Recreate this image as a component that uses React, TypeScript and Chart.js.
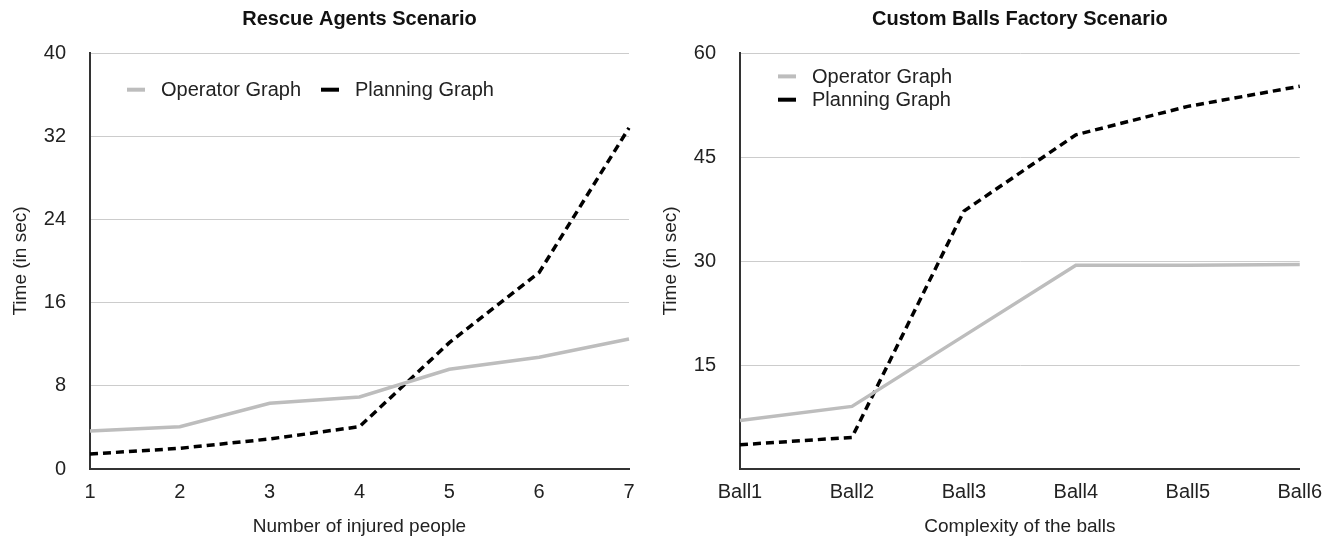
import React, { useEffect, useRef } from "react";
import { Chart, registerables } from "chart.js";

Chart.register(...registerables);

// ---------- data ----------
const rescueCategories = ["1", "2", "3", "4", "5", "6", "7"];
const rescueOperator = [3.66, 4.07, 6.32, 6.93, 9.59, 10.75, 12.5];
const rescuePlanning = [1.44, 1.99, 2.89, 4.07, 12.15, 18.9, 32.8];
const rescueYTicks = [0, 8, 16, 24, 32, 40];

const ballsCategories = ["Ball1", "Ball2", "Ball3", "Ball4", "Ball5", "Ball6"];
const ballsOperator = [7.0, 9.03, 19.2, 29.4, 29.4, 29.5];
const ballsPlanning = [3.5, 4.56, 37.2, 48.2, 52.3, 55.2];
const ballsYTicks = [15, 30, 45, 60];

const seriesNames = ["Operator Graph", "Planning Graph"];

// ---------- styles ----------
const FONT = '"Liberation Sans", Arial, Helvetica, sans-serif';
const TEXT = "#222222";
const GRAY_LINE = "#bdbdbd";
const GRID = "#cccccc";

const overlayPlugin = {
  id: "overlay",
  afterDraw(chart: any, _args: any, opts: any) {
    const { ctx, chartArea } = chart;
    ctx.save();
    ctx.fillStyle = "#111111";
    ctx.font = `bold 20px ${FONT}`;
    ctx.textAlign = "center";
    ctx.textBaseline = "middle";
    ctx.fillText(opts.title, (chartArea.left + chartArea.right) / 2, opts.titleY);

    ctx.font = `20px ${FONT}`;
    ctx.textAlign = "left";
    chart.data.datasets.forEach((ds: any, i: number) => {
      const pos = opts.legend[i];
      const x = chartArea.left + pos.dx;
      const y = chartArea.top + pos.dy;
      ctx.strokeStyle = ds.borderColor;
      ctx.lineWidth = 4;
      ctx.setLineDash([]);
      ctx.beginPath();
      ctx.moveTo(x, y);
      ctx.lineTo(x + 18, y);
      ctx.stroke();
      ctx.fillStyle = TEXT;
      ctx.fillText(ds.label, x + 34, y + 1);
    });
    ctx.restore();
  },
};

function makeConfig(
  categories: string[],
  operator: number[],
  planning: number[],
  yTicks: number[],
  yMax: number,
  xTitle: string,
  title: string,
  legend: { dx: number; dy: number }[],
  yWidth: number,
  padRight: number
): any {
  return {
    type: "line",
    data: {
      labels: categories,
      datasets: [
        {
          label: seriesNames[0],
          data: operator,
          borderColor: GRAY_LINE,
          borderWidth: 3.5,
          pointRadius: 0,
          tension: 0,
          fill: false,
        },
        {
          label: seriesNames[1],
          data: planning,
          borderColor: "#000000",
          borderWidth: 3.5,
          borderDash: [8, 5],
          pointRadius: 0,
          tension: 0,
          fill: false,
        },
      ],
    },
    options: {
      responsive: false,
      animation: false,
      devicePixelRatio: 1,
      layout: { padding: { left: 0, right: padRight, top: 53, bottom: 0 } },
      plugins: {
        legend: { display: false },
        title: { display: false },
        tooltip: { enabled: false },
        overlay: { title, titleY: 19, legend },
      },
      scales: {
        x: {
          type: "category",
          offset: false,
          grid: { display: false, drawTicks: false },
          border: { display: true, color: "#333333", width: 2 },
          ticks: {
            color: TEXT,
            font: { family: FONT, size: 20 },
            padding: 11,
            maxRotation: 0,
            autoSkip: false,
          },
          title: {
            display: true,
            text: xTitle,
            color: TEXT,
            font: { family: FONT, size: 19 },
            padding: { top: 0, bottom: 1 },
          },
          afterFit: (s: any) => {
            s.height = 70;
          },
        },
        y: {
          min: 0,
          max: yMax,
          grid: { color: GRID, lineWidth: 1, drawTicks: false },
          border: { display: true, color: "#333333", width: 2 },
          ticks: {
            color: TEXT,
            font: { family: FONT, size: 20 },
            padding: 24,
          },
          afterBuildTicks: (s: any) => {
            s.ticks = yTicks.map((v) => ({ value: v }));
          },
          title: {
            display: true,
            text: "Time (in sec)",
            color: TEXT,
            font: { family: FONT, size: 19 },
            padding: { top: 9, bottom: 0 },
          },
          afterFit: (s: any) => {
            s.width = yWidth;
          },
        },
      },
    },
    plugins: [overlayPlugin],
  };
}

function ChartCanvas({ config, width, height }: { config: any; width: number; height: number }) {
  const ref = useRef<HTMLCanvasElement | null>(null);
  useEffect(() => {
    if (!ref.current) return;
    const chart = new Chart(ref.current, config);
    return () => chart.destroy();
  }, [config]);
  return <canvas ref={ref} width={width} height={height} style={{ display: "block" }} />;
}

const leftConfig = makeConfig(
  rescueCategories,
  rescueOperator,
  rescuePlanning,
  rescueYTicks,
  40,
  "Number of injured people",
  "Rescue Agents Scenario",
  [
    { dx: 37, dy: 36.7 },
    { dx: 231, dy: 36.7 },
  ],
  90,
  21
);

const rightConfig = makeConfig(
  ballsCategories,
  ballsOperator,
  ballsPlanning,
  ballsYTicks,
  60,
  "Complexity of the balls",
  "Custom Balls Factory Scenario",
  [
    { dx: 38, dy: 23.4 },
    { dx: 38, dy: 46.7 },
  ],
  90,
  32
);

export default function App() {
  return (
    <div
      style={{
        position: "fixed",
        left: 0,
        top: 0,
        width: 1333,
        height: 539,
        background: "#ffffff",
        display: "flex",
      }}
    >
      <ChartCanvas config={leftConfig} width={650} height={539} />
      <ChartCanvas config={rightConfig} width={683} height={539} />
    </div>
  );
}
